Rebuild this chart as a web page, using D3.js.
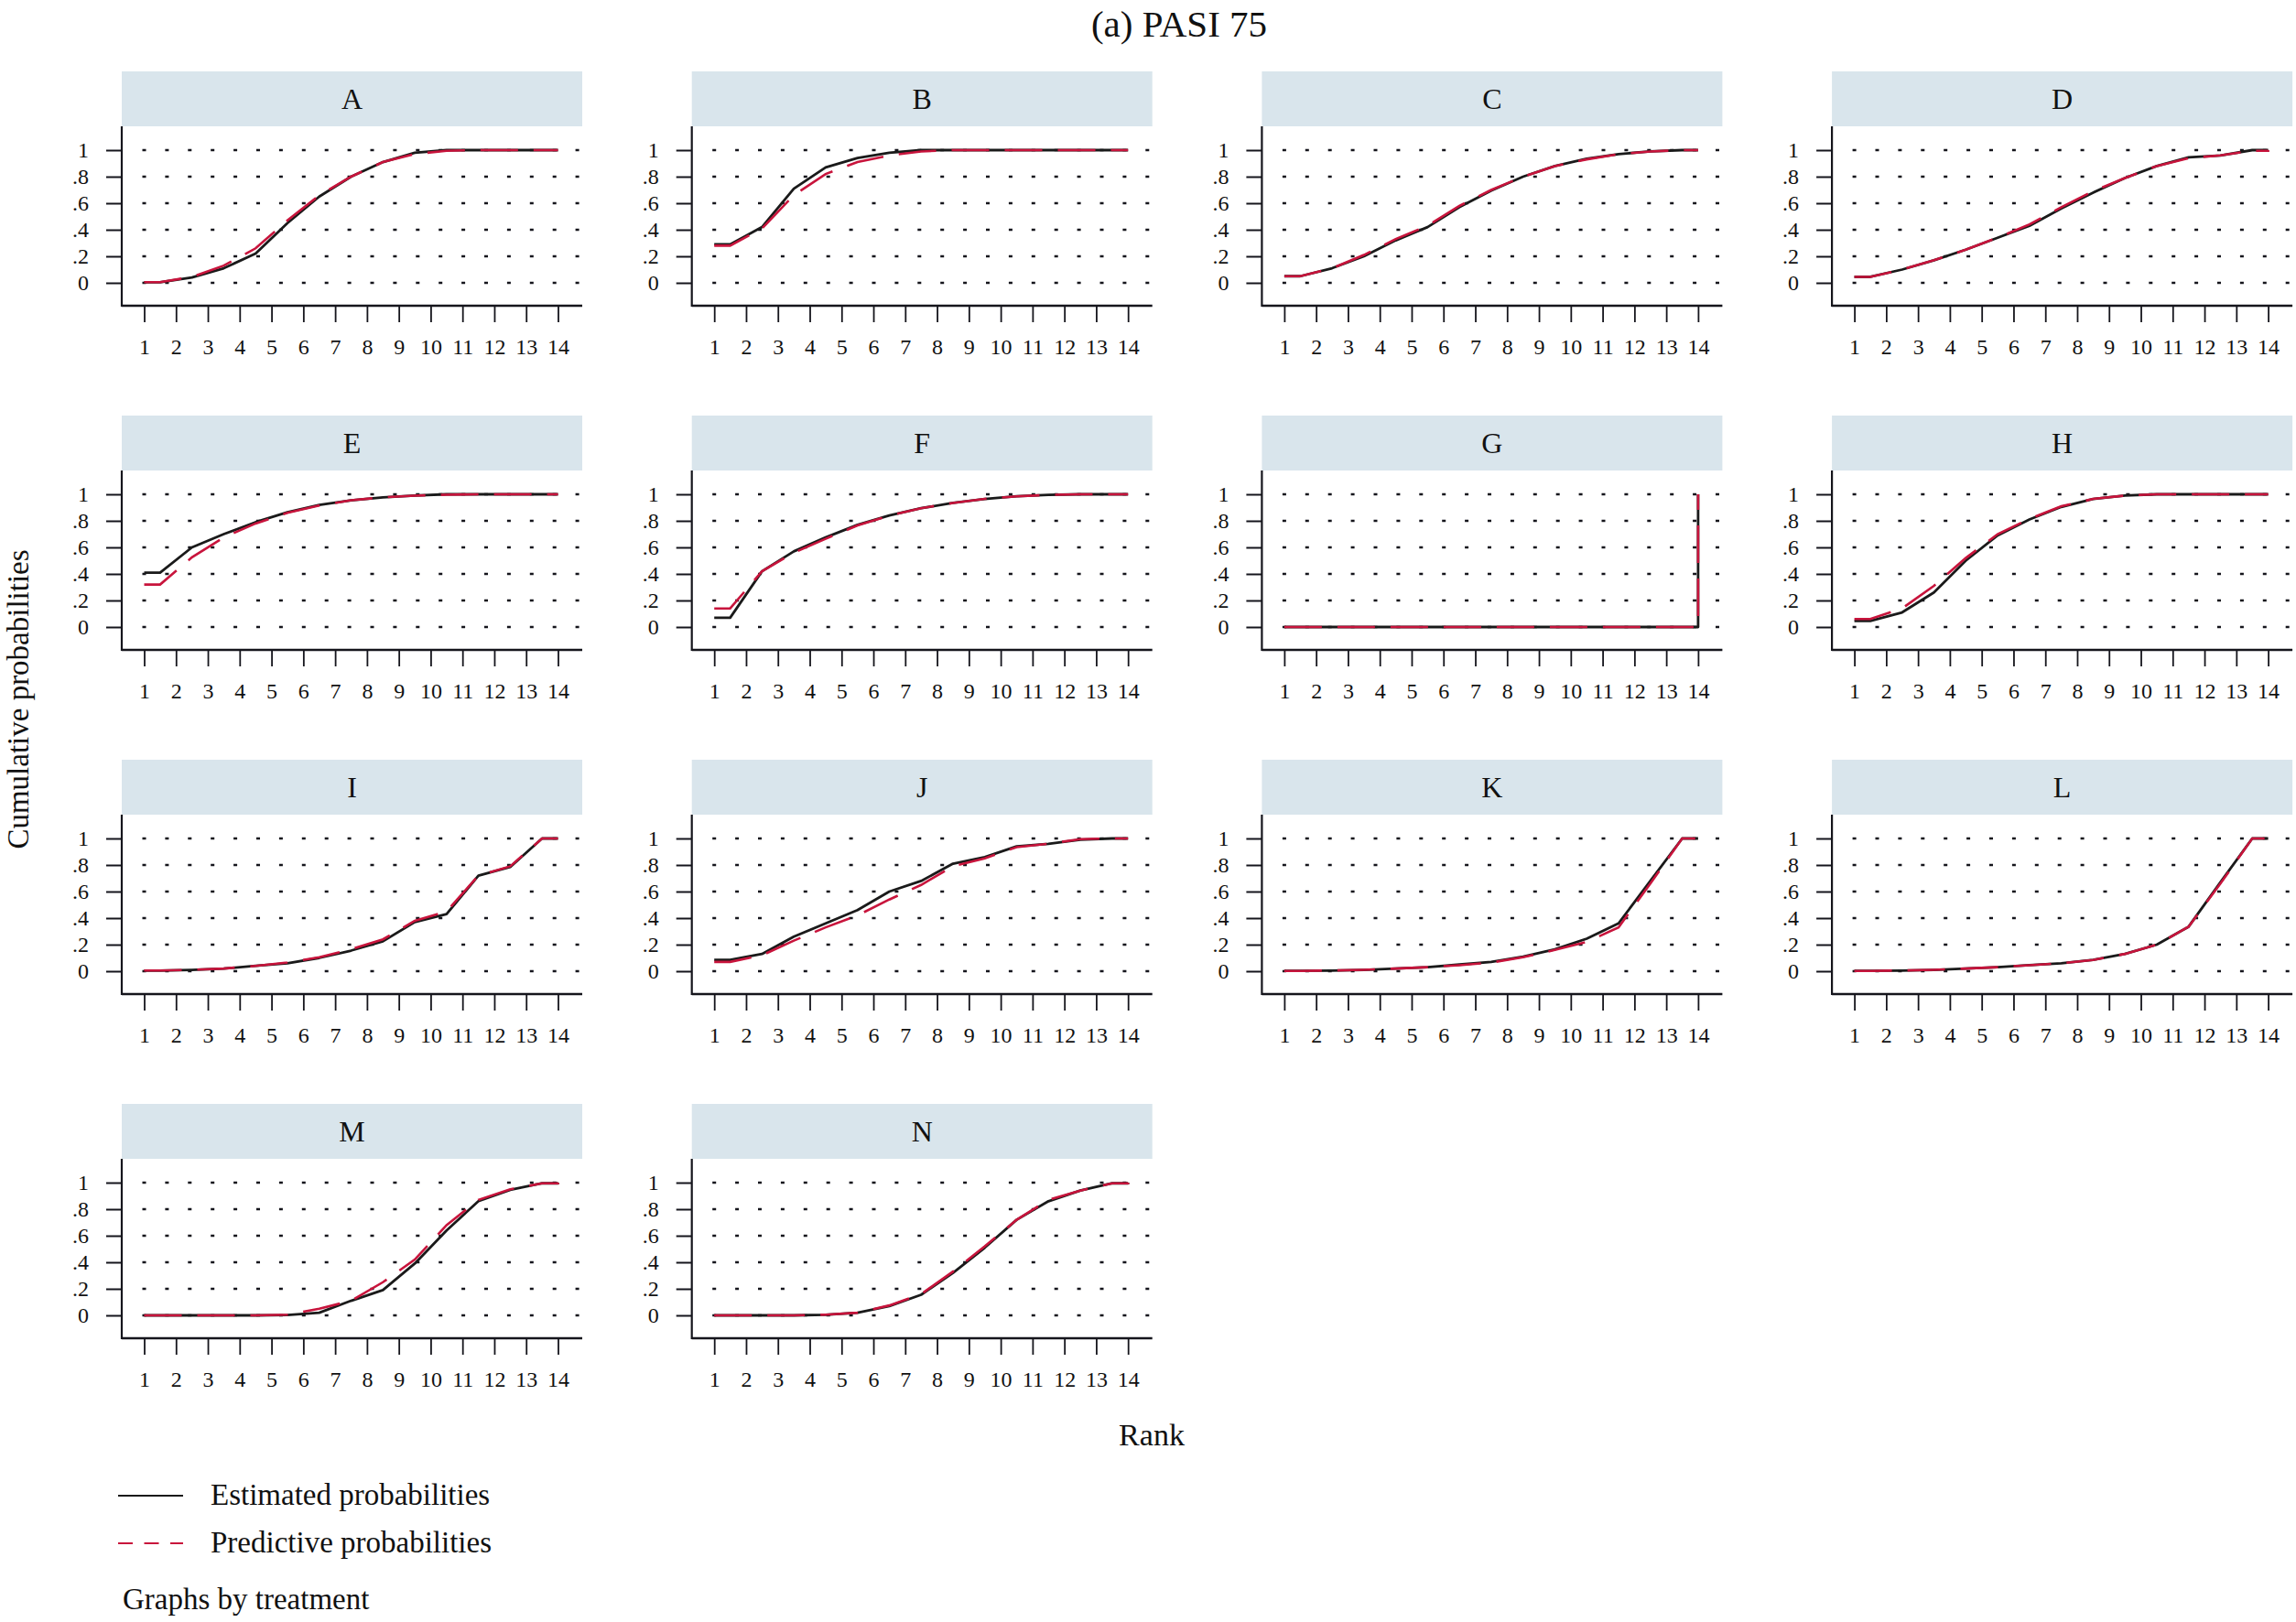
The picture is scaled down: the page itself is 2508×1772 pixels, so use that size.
<!DOCTYPE html>
<html>
<head>
<meta charset="utf-8">
<script src="https://cdn.jsdelivr.net/npm/d3@7"></script>
<style>
  body { margin: 0; background: #fff; }
  svg { display: block; }
  text { font-family: "Liberation Serif", "DejaVu Serif", serif; fill: #111; }
</style>
</head>
<body>
<svg id="chart"></svg>
<script>
// panels, ranks and axis labels
const treatments = ['A', 'B', 'C', 'D', 'E', 'F', 'G', 'H', 'I', 'J', 'K', 'L', 'M', 'N'];
const ranks = [1, 2, 3, 4, 5, 6, 7, 8, 9, 10, 11, 12, 13, 14];
const yTicks = [0, 0.2, 0.4, 0.6, 0.8, 1];
const yTickLabels = ['0', '.2', '.4', '.6', '.8', '1'];

// cumulative ranking probabilities (rank 1..14)
const estA = [0.005, 0.04, 0.11, 0.22, 0.45, 0.65, 0.8, 0.91, 0.98, 1, 1, 1, 1, 1];
const predA = [0.005, 0.045, 0.13, 0.26, 0.47, 0.66, 0.8, 0.91, 0.97, 0.995, 1, 1, 1, 1];
const estB = [0.29, 0.42, 0.71, 0.87, 0.94, 0.98, 1, 1, 1, 1, 1, 1, 1, 1];
const predB = [0.28, 0.41, 0.66, 0.82, 0.91, 0.96, 0.99, 1, 1, 1, 1, 1, 1, 1];
const estC = [0.05, 0.11, 0.2, 0.32, 0.42, 0.57, 0.695, 0.8, 0.88, 0.935, 0.97, 0.99, 1, 1];
const predC = [0.05, 0.11, 0.21, 0.33, 0.43, 0.58, 0.7, 0.8, 0.88, 0.93, 0.97, 0.99, 1, 1];
const estD = [0.045, 0.1, 0.17, 0.25, 0.34, 0.43, 0.56, 0.68, 0.79, 0.88, 0.945, 0.96, 1, 1];
const predD = [0.045, 0.1, 0.17, 0.25, 0.34, 0.44, 0.57, 0.69, 0.79, 0.88, 0.94, 0.96, 0.995, 1];
const estE = [0.41, 0.6, 0.7, 0.79, 0.865, 0.92, 0.955, 0.977, 0.99, 1, 1, 1, 1, 1];
const predE = [0.32, 0.525, 0.675, 0.78, 0.86, 0.915, 0.955, 0.977, 0.99, 0.997, 1, 1, 1, 1];
const estF = [0.07, 0.42, 0.57, 0.675, 0.77, 0.84, 0.895, 0.935, 0.965, 0.985, 0.995, 1, 1, 1];
const predF = [0.14, 0.42, 0.56, 0.665, 0.765, 0.84, 0.895, 0.935, 0.965, 0.985, 0.995, 1, 1, 1];
const estG = [0, 0, 0, 0, 0, 0, 0, 0, 0, 0, 0, 0, 0, 1];
const predG = [0, 0, 0, 0, 0, 0, 0, 0, 0, 0, 0, 0, 0, 1];
const estH = [0.046, 0.11, 0.26, 0.5, 0.69, 0.81, 0.905, 0.965, 0.99, 1, 1, 1, 1, 1];
const predH = [0.06, 0.14, 0.31, 0.52, 0.7, 0.815, 0.91, 0.965, 0.99, 1, 1, 1, 1, 1];
const estI = [0.005, 0.01, 0.02, 0.04, 0.06, 0.1, 0.155, 0.225, 0.37, 0.43, 0.72, 0.785, 1, 1];
const predI = [0.005, 0.01, 0.02, 0.04, 0.065, 0.105, 0.165, 0.24, 0.38, 0.45, 0.72, 0.79, 1, 1];
const estJ = [0.085, 0.13, 0.26, 0.36, 0.46, 0.6, 0.68, 0.81, 0.86, 0.94, 0.96, 0.99, 1, 1];
const predJ = [0.07, 0.12, 0.23, 0.33, 0.42, 0.54, 0.65, 0.79, 0.85, 0.935, 0.96, 0.995, 1, 1];
const estK = [0.002, 0.005, 0.01, 0.02, 0.03, 0.05, 0.07, 0.11, 0.165, 0.245, 0.36, 0.68, 1, 1];
const predK = [0.002, 0.005, 0.01, 0.02, 0.03, 0.045, 0.065, 0.105, 0.16, 0.22, 0.33, 0.66, 1, 1];
const estL = [0.002, 0.005, 0.01, 0.02, 0.03, 0.045, 0.06, 0.085, 0.13, 0.2, 0.335, 0.67, 1, 1];
const predL = [0.002, 0.005, 0.01, 0.02, 0.03, 0.045, 0.06, 0.085, 0.13, 0.2, 0.335, 0.66, 1, 1];
const estM = [0, 0, 0, 0, 0.002, 0.02, 0.11, 0.19, 0.39, 0.64, 0.86, 0.945, 0.995, 1];
const predM = [0, 0, 0, 0, 0.005, 0.05, 0.11, 0.25, 0.42, 0.68, 0.87, 0.95, 0.995, 1];
const estN = [0, 0, 0, 0.005, 0.02, 0.07, 0.155, 0.32, 0.51, 0.72, 0.86, 0.94, 0.995, 1];
const predN = [0, 0, 0, 0.005, 0.02, 0.075, 0.16, 0.33, 0.52, 0.72, 0.87, 0.94, 0.995, 1];

const estimated = [estA, estB, estC, estD, estE, estF, estG, estH, estI, estJ, estK, estL, estM, estN];
const predictive = [predA, predB, predC, predD, predE, predF, predG, predH, predI, predJ, predK, predL, predM, predN];

const width = 2508;
const height = 1772;
const red = '#c8143c';
const ink = '#15151c';
const stripFill = '#d9e5ec';

const panelW = 503;
const colStep = 622.7;
const rowStep = 376;
const left0 = 133;
const top0 = 78;

const svg = d3.select('#chart').attr('width', width).attr('height', height);

// shared scales (local panel coordinates)
const x = d3.scaleLinear().domain([1, 14]).range([24.5, 476.5]);
const y = d3.scaleLinear().domain([0, 1]).range([231, 86]);
const axisY = 256;

// Stata draws each cumulative value half a rank to the right
const toPoints = vals => {
  const pts = [[1, vals[0]]];
  vals.slice(0, 13).forEach((v, i) => pts.push([i + 1.5, v]));
  pts.push([14, vals[12]], [14, vals[13]]);
  return pts;
};

const line = d3.line().x(d => x(d[0])).y(d => y(d[1]));

treatments.forEach((name, i) => {
  const col = i % 4;
  const row = Math.floor(i / 4);
  const g = svg.append('g')
    .attr('transform', `translate(${left0 + col * colStep},${top0 + row * rowStep})`);

  g.append('rect')
    .attr('x', 0).attr('y', 0)
    .attr('width', panelW).attr('height', 60)
    .attr('fill', stripFill);

  g.append('text')
    .attr('x', panelW / 2).attr('y', 41)
    .attr('text-anchor', 'middle')
    .style('font-size', '32px')
    .text(name);

  // dotted gridlines
  g.append('g').selectAll('line')
    .data(yTicks)
    .enter()
    .append('line')
    .attr('x1', x(1) - 2).attr('x2', panelW)
    .attr('y1', d => y(d)).attr('y2', d => y(d))
    .attr('stroke', ink)
    .attr('stroke-width', 2.4)
    .attr('stroke-dasharray', '4,20.9');

  // y axis
  const yAxis = g.append('g')
    .call(d3.axisLeft(y).tickValues(yTicks).tickFormat((d, k) => yTickLabels[k]).tickSize(17).tickPadding(19));
  yAxis.select('.domain').remove();
  yAxis.selectAll('line').attr('stroke', ink).attr('stroke-width', 2);
  yAxis.selectAll('text').style('font-size', '24px').attr('fill', ink);
  g.append('line')
    .attr('x1', 0).attr('x2', 0).attr('y1', 60).attr('y2', axisY + 1)
    .attr('stroke', ink).attr('stroke-width', 2.2);

  // x axis
  const xAxis = g.append('g')
    .attr('transform', `translate(0,${axisY})`)
    .call(d3.axisBottom(x).tickValues(ranks).tickFormat(d3.format('d')).tickSize(18).tickPadding(18));
  xAxis.select('.domain').remove();
  xAxis.selectAll('line').attr('stroke', ink).attr('stroke-width', 1.8);
  xAxis.selectAll('text').style('font-size', '24px').attr('fill', ink);
  g.append('line')
    .attr('x1', 0).attr('x2', panelW).attr('y1', axisY).attr('y2', axisY)
    .attr('stroke', ink).attr('stroke-width', 2.6);

  g.append('path')
    .attr('d', line(toPoints(estimated[i])))
    .attr('fill', 'none')
    .attr('stroke', '#1a1a1a')
    .attr('stroke-width', 2.8)
    .attr('stroke-linejoin', 'round');

  g.append('path')
    .attr('d', line(toPoints(predictive[i])))
    .attr('fill', 'none')
    .attr('stroke', red)
    .attr('stroke-width', 2.6)
    .attr('stroke-dasharray', '41,17');
});

svg.append('text')
  .attr('x', 1288).attr('y', 40)
  .attr('text-anchor', 'middle')
  .style('font-size', '41px')
  .text('(a) PASI 75');

svg.append('text')
  .attr('transform', 'translate(31,764) rotate(-90)')
  .attr('text-anchor', 'middle')
  .style('font-size', '33px')
  .text('Cumulative probabilities');

svg.append('text')
  .attr('x', 1258).attr('y', 1579)
  .attr('text-anchor', 'middle')
  .style('font-size', '34px')
  .text('Rank');

// legend
const legend = svg.append('g');
legend.append('line')
  .attr('x1', 129).attr('x2', 200).attr('y1', 1634).attr('y2', 1634)
  .attr('stroke', '#1a1a1a').attr('stroke-width', 2.2);
legend.append('text').attr('x', 230).attr('y', 1644).style('font-size', '33px')
  .text('Estimated probabilities');
legend.append('line')
  .attr('x1', 129).attr('x2', 200).attr('y1', 1686).attr('y2', 1686)
  .attr('stroke', red).attr('stroke-width', 2.2)
  .attr('stroke-dasharray', '16,12.5');
legend.append('text').attr('x', 230).attr('y', 1696).style('font-size', '33px')
  .text('Predictive probabilities');
legend.append('text').attr('x', 134).attr('y', 1758).style('font-size', '33px')
  .text('Graphs by treatment');
</script>
</body>
</html>
